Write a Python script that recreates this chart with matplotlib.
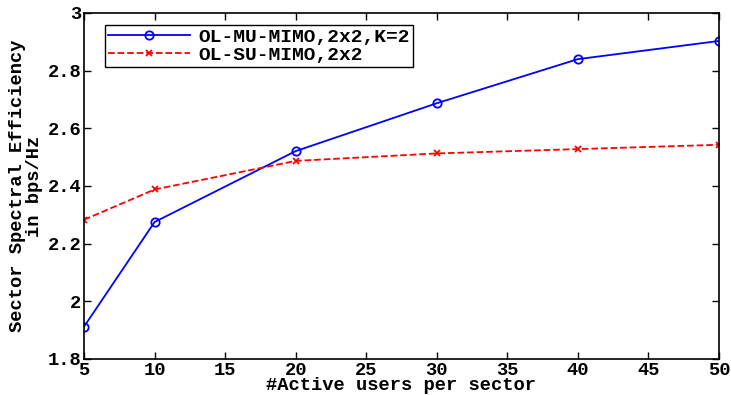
import numpy as np
import matplotlib
matplotlib.use('Agg')
import matplotlib.pyplot as plt

users = [5, 10, 20, 30, 40, 50]
mu_mimo = [1.912, 2.275, 2.521, 2.687, 2.840, 2.903]
su_mimo = [2.283, 2.388, 2.487, 2.513, 2.528, 2.543]

plt.rcParams['font.family'] = 'Liberation Mono'
plt.rcParams['font.weight'] = 'bold'

fig = plt.figure(figsize=(7.31, 3.95), dpi=100)
ax = fig.add_axes([84/731, 1-359/395, (719-84)/731, (359-13)/395])

ax.plot(users, mu_mimo, '-o', color='blue', lw=1.3, ms=6, mfc='none', mew=1.3,
        label='OL-MU-MIMO,2x2,K=2')
ax.plot(users, su_mimo, '--x', color='red', lw=1.3, ms=4, mew=1.3,
        label='OL-SU-MIMO,2x2')

ax.set_xlim(5, 50)
ax.set_ylim(1.8, 3)
ax.set_xticks(np.arange(5, 51, 5))
ax.set_yticks([1.8, 2, 2.2, 2.4, 2.6, 2.8, 3])
ax.set_yticklabels(['1.8', '2', '2.2', '2.4', '2.6', '2.8', '3'])
ax.tick_params(direction='in', top=True, right=True, labelsize=13.5, length=5, width=1, pad=2)
for s in ax.spines.values():
    s.set_linewidth(1.2)

ax.set_xlabel('#Active users per sector', fontsize=13.5, fontweight='bold', labelpad=-1)
ax.set_ylabel('Sector Spectral Efficiency\nin bps/Hz', fontsize=13.5, fontweight='bold',
              linespacing=1.0, labelpad=3)

leg = ax.legend(loc='upper left', bbox_to_anchor=(0.033, 0.965), fontsize=14,
                fancybox=False, framealpha=1, edgecolor='black',
                borderpad=0.15, handlelength=4.2, labelspacing=0.05, borderaxespad=0,
                handletextpad=0.45)
leg.get_frame().set_linewidth(1.0)

fig.savefig('out.png', dpi=100)
